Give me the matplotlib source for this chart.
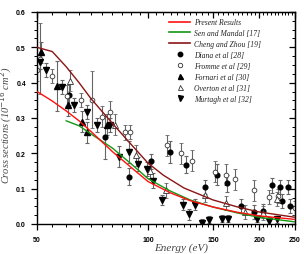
import matplotlib
matplotlib.use("Agg")
import matplotlib.pyplot as plt
from matplotlib.lines import Line2D
from matplotlib.ticker import FixedLocator, NullFormatter, FixedFormatter, MultipleLocator

# ---- data ----
present_E = [50, 55, 60, 65, 70, 80, 90, 100, 115, 130, 150, 175, 200, 250]
present_Q = [0.375, 0.348, 0.320, 0.292, 0.262, 0.205, 0.160, 0.120, 0.088, 0.066, 0.048, 0.033, 0.023, 0.013]

sen_E = [60, 65, 70, 80, 90, 100, 115, 130, 150, 175, 200, 250]
sen_Q = [0.292, 0.278, 0.255, 0.215, 0.170, 0.128, 0.093, 0.068, 0.048, 0.031, 0.019, 0.006]

cheng_E = [50, 55, 60, 65, 70, 80, 90, 100, 110, 125, 150, 175, 200, 250]
cheng_Q = [0.500, 0.488, 0.445, 0.400, 0.355, 0.285, 0.225, 0.172, 0.138, 0.102, 0.068, 0.048, 0.034, 0.019]

diana_E = [61, 76.6, 89, 102, 114.5, 127, 143, 154, 164, 178, 194, 205, 217, 228, 230, 239, 243]
diana_Q = [0.366, 0.245, 0.134, 0.177, 0.204, 0.168, 0.104, 0.140, 0.115, 0.052, 0.034, 0.036, 0.109, 0.104, 0.064, 0.104, 0.052]
diana_err = [0.03, 0.06, 0.025, 0.02, 0.03, 0.025, 0.02, 0.03, 0.025, 0.02, 0.02, 0.02, 0.02, 0.02, 0.02, 0.02, 0.02]

fromme_E = [50, 51, 54.8, 60.2, 65.6, 70.5, 74.9, 78.7, 86.8, 89.4, 112.5, 122.6, 131.2, 152, 163, 172, 193, 213, 225, 250]
fromme_Q = [0.436, 0.468, 0.418, 0.363, 0.352, 0.352, 0.304, 0.318, 0.259, 0.261, 0.223, 0.200, 0.179, 0.148, 0.139, 0.126, 0.095, 0.077, 0.080, 0.045]
fromme_err = [0.03, 0.10, 0.02, 0.03, 0.02, 0.08, 0.03, 0.03, 0.02, 0.02, 0.03, 0.03, 0.03, 0.03, 0.03, 0.03, 0.03, 0.02, 0.02, 0.02]

fornari_E = [51.2, 56.6, 60.8, 66.1, 68.2, 77.3]
fornari_Q = [0.486, 0.390, 0.336, 0.290, 0.259, 0.281]
fornari_err = [0.03, 0.07, 0.03, 0.03, 0.03, 0.03]

overton_E = [61.5, 81.5, 92.7, 101, 112, 143, 163, 183, 205, 224]
overton_Q = [0.406, 0.281, 0.195, 0.150, 0.095, 0.082, 0.059, 0.034, 0.030, 0.070]
overton_err = [0.03, 0.03, 0.03, 0.02, 0.02, 0.02, 0.02, 0.02, 0.02, 0.02]

murtagh_E = [51, 53, 58.3, 62.8, 68.2, 72.7, 78.7, 83.2, 88.5, 93.6, 99.2, 103, 109, 124, 129, 134, 140, 146, 159, 165, 197, 212, 224]
murtagh_Q = [0.459, 0.436, 0.387, 0.336, 0.318, 0.281, 0.281, 0.191, 0.204, 0.170, 0.155, 0.123, 0.068, 0.055, 0.027, 0.055, 0.003, 0.012, 0.015, 0.015, 0.015, 0.009, 0.013]
murtagh_err = [0.02, 0.02, 0.02, 0.02, 0.02, 0.02, 0.02, 0.03, 0.03, 0.02, 0.02, 0.02, 0.015, 0.015, 0.015, 0.015, 0.01, 0.01, 0.01, 0.01, 0.01, 0.01, 0.01]

xticks = [50, 100, 150, 200, 250]
xtick_labels = ["50", "100", "150", "200", "250"]
yticks = [0.0, 0.1, 0.2, 0.3, 0.4, 0.5, 0.6]
ytick_labels = ["0.0", "0.1", "0.2", "0.3", "0.4", "0.5", "0.6"]

legend_labels = ["Present Results", "Sen and Mandal [17]", "Cheng and Zhou [19]",
                 "Diana et al [28]", "Fromme et al [29]", "Fornari et al [30]",
                 "Overton et al [31]", "Murtagh et al [32]"]

# ---- figure ----
fig = plt.figure(figsize=(3.04, 2.55), dpi=100)
ax = fig.add_axes([37/304, 30/255, (295-37)/304, (225-13)/255])

RED = "#ff1010"
GREEN = "#149614"
DRED = "#8b1414"
ECOL = "#666666"

ms = 3.4
ekw = dict(ecolor=ECOL, elinewidth=0.8, capsize=1.6, capthick=0.8, linestyle="none")
ax.errorbar(diana_E, diana_Q, yerr=diana_err, marker="o", mfc="black", mec="black", ms=ms, **ekw)
ax.errorbar(fromme_E, fromme_Q, yerr=fromme_err, marker="o", mfc="white", mec="#333333", mew=0.6, ms=ms, **ekw)
ax.errorbar(fornari_E, fornari_Q, yerr=fornari_err, marker="^", mfc="black", mec="black", ms=ms+0.4, **ekw)
ax.errorbar(overton_E, overton_Q, yerr=overton_err, marker="^", mfc="white", mec="#333333", mew=0.6, ms=ms+0.4, **ekw)
ax.errorbar(murtagh_E, murtagh_Q, yerr=murtagh_err, marker="v", mfc="black", mec="black", ms=ms+0.4, **ekw)

ax.plot(present_E, present_Q, color=RED, lw=1.0, zorder=4)
ax.plot(sen_E, sen_Q, color=GREEN, lw=1.0, zorder=3.9)
ax.plot(cheng_E, cheng_Q, color=DRED, lw=1.0, zorder=4)

ax.set_xscale("log")
ax.set_xlim(50, 250)
ax.set_ylim(0, 0.6)

minors = [e for e in range(55, 250, 5) if e not in xticks]
ax.xaxis.set_major_locator(FixedLocator(xticks))
ax.xaxis.set_major_formatter(FixedFormatter(xtick_labels))
ax.xaxis.set_minor_locator(FixedLocator(minors))
ax.xaxis.set_minor_formatter(NullFormatter())
ax.set_yticks(yticks)
ax.set_yticklabels(ytick_labels)
ax.yaxis.set_minor_locator(MultipleLocator(0.025))
for lab in ax.get_xticklabels() + ax.get_yticklabels():
    lab.set_fontfamily("Liberation Sans")
    lab.set_fontweight("bold")
    lab.set_fontsize(5)

ax.tick_params(axis="both", which="major", direction="out", length=4, width=0.9)
ax.tick_params(axis="both", which="minor", direction="out", length=2.5, width=0.7)
ax.tick_params(axis="x", which="major", pad=5)
ax.tick_params(axis="y", which="major", pad=4)
ax.tick_params(top=False, right=False)
for sp in ax.spines.values():
    sp.set_linewidth(1.0)

# top and right ticks pointing inward
sx = ax.secondary_xaxis("top", functions=(lambda v: v, lambda v: v))
sx.set_xscale("log")
sx.xaxis.set_major_locator(FixedLocator(xticks))
sx.xaxis.set_minor_locator(FixedLocator(minors))
sx.xaxis.set_major_formatter(NullFormatter())
sx.xaxis.set_minor_formatter(NullFormatter())
sx.tick_params(which="major", direction="in", length=4, width=0.9)
sx.tick_params(which="minor", direction="in", length=2.5, width=0.7)

sy = ax.secondary_yaxis("right")
sy.set_yticks(yticks)
sy.yaxis.set_minor_locator(MultipleLocator(0.025))
sy.yaxis.set_major_formatter(NullFormatter())
sy.tick_params(which="major", direction="in", length=4, width=0.9)
sy.tick_params(which="minor", direction="in", length=2.5, width=0.7)

serif_it = dict(family="Liberation Serif", style="italic")
ax.set_xlabel("Energy (eV)", fontsize=8, color="#444444", **serif_it)
ax.xaxis.set_label_coords(0.56, -0.085)
ax.set_ylabel(r"Cross sections (10$^{-16}$ cm$^{2}$)", fontsize=7.5, color="#444444", **serif_it)
ax.yaxis.set_label_coords(-0.09, 0.47)

handles = [
    Line2D([], [], color=RED, lw=1.2),
    Line2D([], [], color=GREEN, lw=1.2),
    Line2D([], [], color=DRED, lw=1.2),
    Line2D([], [], color="none", marker="o", mfc="black", mec="black", ms=3.2),
    Line2D([], [], color="none", marker="o", mfc="white", mec="#333333", mew=0.6, ms=3.2),
    Line2D([], [], color="none", marker="^", mfc="black", mec="black", ms=3.6),
    Line2D([], [], color="none", marker="^", mfc="white", mec="#333333", mew=0.6, ms=3.6),
    Line2D([], [], color="none", marker="v", mfc="black", mec="black", ms=3.6),
]
leg = ax.legend(handles, legend_labels, loc="upper left", bbox_to_anchor=(0.5, 0.985),
                frameon=False, prop=dict(family="Liberation Serif", style="italic", size=5.5),
                handlelength=2.8, handletextpad=0.5, labelspacing=0.38, borderaxespad=0)
for t in leg.get_texts():
    t.set_color("#222222")

fig.savefig("out.png", dpi=100)
